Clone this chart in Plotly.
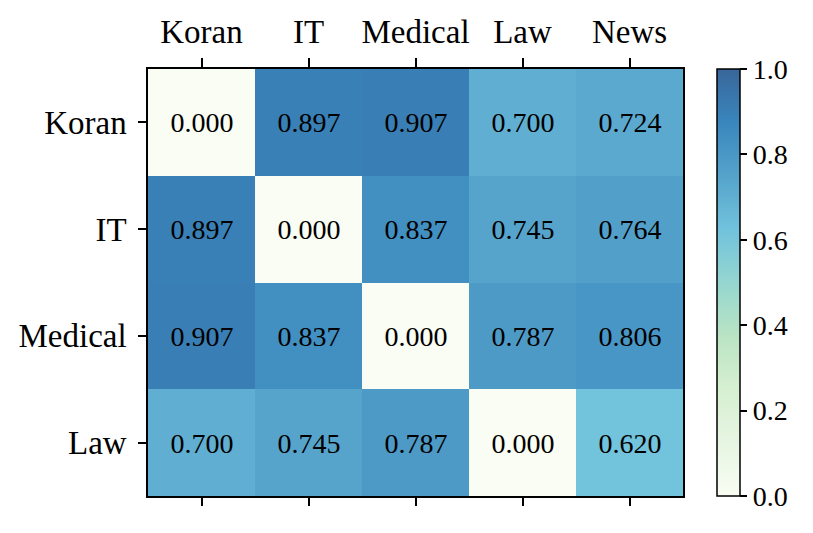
#!/usr/bin/env python3
"""Domain distance heatmap (Koran / IT / Medical / Law / News)."""

import plotly.graph_objects as go

col_labels = ["Koran", "IT", "Medical", "Law", "News"]
row_labels = ["Koran", "IT", "Medical", "Law"]
distances = [
    [0.000, 0.897, 0.907, 0.700, 0.724],
    [0.897, 0.000, 0.837, 0.745, 0.764],
    [0.907, 0.837, 0.000, 0.787, 0.806],
    [0.700, 0.745, 0.787, 0.000, 0.620],
]
cbar_ticks = [0.0, 0.2, 0.4, 0.6, 0.8, 1.0]

# matplotlib GnBu, drawn with alpha 0.8 over white
GNBU = ["#f7fcf0", "#e0f3db", "#ccebc5", "#a8ddb5", "#7bccc4",
        "#4eb3d3", "#2b8cbe", "#0868ac", "#084081"]


def fade(hex_color, alpha=0.8):
    r, g, b = (int(hex_color[i:i + 2], 16) for i in (1, 3, 5))
    mix = [round(c * alpha + 255 * (1 - alpha)) for c in (r, g, b)]
    return "rgb({},{},{})".format(*mix)


colorscale = [[i / (len(GNBU) - 1), fade(c)] for i, c in enumerate(GNBU)]

FONT = "Liberation Serif, Times New Roman, serif"
xs = list(range(len(col_labels)))
ys = list(range(len(row_labels)))

fig = go.Figure()
fig.add_trace(
    go.Heatmap(
        z=distances,
        x=xs,
        y=ys,
        zmin=0,
        zmax=1,
        colorscale=colorscale,
        texttemplate="%{z:.3f}",
        textfont={"family": FONT, "size": 28, "color": "black"},
        hoverinfo="skip",
        colorbar={
            "x": 1.0636,
            "xanchor": "left",
            "xpad": 0,
            "y": 0.5,
            "len": 1.0,
            "ypad": 0,
            "thickness": 23,
            "outlinewidth": 1.5,
            "outlinecolor": "black",
            "tickvals": cbar_ticks,
            "ticktext": [f"{t:.1f}" for t in cbar_ticks],
            "ticks": "outside",
            "ticklen": 7,
            "tickwidth": 1.5,
            "tickcolor": "black",
            "tickfont": {"family": FONT, "size": 28, "color": "black"},
        },
    )
)
# dummy trace so the bottom tick axis is drawn
fig.add_trace(
    go.Scatter(x=[0], y=[0], xaxis="x2", mode="markers", opacity=0,
               showlegend=False, hoverinfo="skip")
)

fig.update_layout(
    width=813,
    height=533,
    paper_bgcolor="white",
    plot_bgcolor="white",
    margin={"l": 140, "r": 138, "t": 61, "b": 45, "autoexpand": False},
    font={"family": FONT, "color": "black"},
    xaxis={
        "side": "top",
        "range": [-0.5, 4.5],
        "tickvals": xs,
        "ticktext": col_labels,
        "ticks": "outside",
        "ticklen": 9,
        "tickwidth": 1.5,
        "tickcolor": "black",
        "tickfont": {"size": 33},
        "ticklabelstandoff": 2,
        "automargin": False,
        "showline": True,
        "linewidth": 1.5,
        "linecolor": "black",
        "mirror": True,
        "showgrid": False,
        "zeroline": False,
    },
    xaxis2={
        "overlaying": "x",
        "side": "bottom",
        "range": [-0.5, 4.5],
        "tickvals": xs,
        "showticklabels": False,
        "ticks": "outside",
        "ticklen": 9,
        "tickwidth": 1.5,
        "tickcolor": "black",
        "automargin": False,
        "showgrid": False,
        "zeroline": False,
    },
    yaxis={
        "range": [3.5, -0.5],
        "tickvals": ys,
        "ticktext": row_labels,
        "ticks": "outside",
        "ticklen": 8,
        "tickwidth": 1.5,
        "tickcolor": "black",
        "tickfont": {"size": 33},
        "ticklabelstandoff": 5,
        "automargin": False,
        "showline": True,
        "linewidth": 1.5,
        "linecolor": "black",
        "mirror": True,
        "showgrid": False,
        "zeroline": False,
    },
)

fig.write_html("out.html")
